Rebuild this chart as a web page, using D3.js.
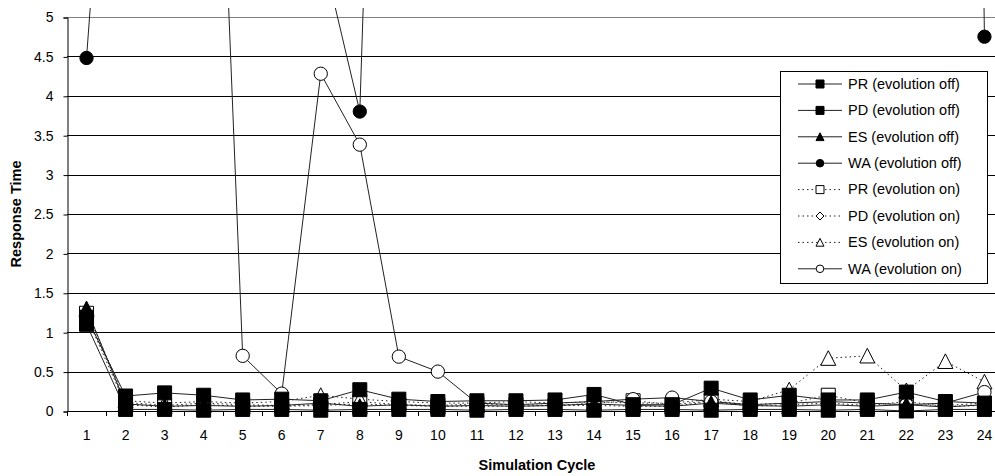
<!DOCTYPE html>
<html>
<head>
<meta charset="utf-8">
<script src="https://cdn.jsdelivr.net/npm/d3@7"></script>
<style>
  html, body { margin: 0; padding: 0; background: #fff; }
  svg { display: block; }
  text { font-family: "Liberation Sans", Arial, sans-serif; fill: #000; }
</style>
</head>
<body>
<svg id="chart" width="995" height="476"></svg>
<script>
// ---- data ----
const categories = ["1","2","3","4","5","6","7","8","9","10","11","12","13","14","15","16","17","18","19","20","21","22","23","24"];
const yTickValues = [0, 0.5, 1, 1.5, 2, 2.5, 3, 3.5, 4, 4.5, 5];

const prOff = [1.19, 0.19, 0.23, 0.2, 0.14, 0.15, 0.13, 0.27, 0.15, 0.12, 0.13, 0.13, 0.14, 0.21, 0.08, 0.08, 0.29, 0.14, 0.2, 0.14, 0.14, 0.24, 0.12, 0.1];
const pdOff = [1.1, 0.02, 0.02, 0.01, 0.02, 0.02, 0.01, 0.02, 0.02, 0.02, 0.01, 0.02, 0.02, 0.01, 0.02, 0.02, 0.01, 0.02, 0.02, 0.01, 0.02, 0.0, 0.02, 0.02];
const esOff = [1.3, 0.09, 0.06, 0.07, 0.06, 0.07, 0.1, 0.06, 0.08, 0.06, 0.07, 0.06, 0.07, 0.09, 0.07, 0.06, 0.1, 0.07, 0.06, 0.08, 0.06, 0.08, 0.05, 0.08];
const waOff = [4.48, 11.2, 12, 13, 12, 10, 5.9, 3.8, 19, 20, 20, 20, 20, 20, 20, 20, 20, 20, 20, 20, 20, 20, 40, 4.75];
const prOn  = [1.24, 0.11, 0.07, 0.1, 0.08, 0.07, 0.08, 0.12, 0.08, 0.07, 0.09, 0.08, 0.07, 0.1, 0.13, 0.08, 0.13, 0.08, 0.1, 0.2, 0.1, 0.08, 0.07, 0.1];
const pdOn  = [1.2, 0.08, 0.05, 0.08, 0.06, 0.06, 0.07, 0.09, 0.07, 0.06, 0.06, 0.06, 0.07, 0.07, 0.06, 0.06, 0.12, 0.06, 0.08, 0.1, 0.07, 0.12, 0.06, 0.07];
const esOn  = [1.28, 0.13, 0.1, 0.12, 0.1, 0.12, 0.2, 0.15, 0.12, 0.1, 0.1, 0.12, 0.1, 0.12, 0.1, 0.1, 0.15, 0.12, 0.27, 0.67, 0.7, 0.26, 0.63, 0.37];
const waOn  = [16, 18, 17, 13, 0.7, 0.22, 4.28, 3.38, 0.69, 0.5, 0.1, 0.08, 0.1, 0.12, 0.15, 0.17, 0.12, 0.08, 0.1, 0.12, 0.1, 0.08, 0.1, 0.24];

const seriesNames = ["PR (evolution off)", "PD (evolution off)", "ES (evolution off)", "WA (evolution off)",
                     "PR (evolution on)", "PD (evolution on)", "ES (evolution on)", "WA (evolution on)"];
const seriesValues = [prOff, pdOff, esOff, waOff, prOn, pdOn, esOn, waOn];

// ---- styles (separate from data) ----
const styles = [
  {marker: "square",   fill: "#000", dash: null},
  {marker: "square",   fill: "#000", dash: null},
  {marker: "triangle", fill: "#000", dash: null},
  {marker: "circle",   fill: "#000", dash: null},
  {marker: "square",   fill: "#fff", dash: "1.5,3"},
  {marker: "diamond",  fill: "#fff", dash: "1.5,3"},
  {marker: "triangle", fill: "#fff", dash: "1.5,3"},
  {marker: "circle",   fill: "#fff", dash: null}
];

const series = seriesNames.map((n, i) => ({name: n, values: seriesValues[i], style: styles[i]}));

// ---- layout ----
const svg = d3.select("#chart");
const plotLeft = 67, bandW = 39.04;
const x = d3.scaleBand().domain(categories).range([plotLeft, plotLeft + bandW * categories.length]).paddingInner(0).paddingOuter(0);
const y = d3.scaleLinear().domain([0, 5]).range([411, 17]);
const cx = c => x(c) + x.bandwidth() / 2;

svg.append("defs").append("clipPath").attr("id", "plotclip")
  .append("rect").attr("x", plotLeft).attr("y", 8).attr("width", 1000).attr("height", 470);

// gridlines
svg.append("g").selectAll("line").data(yTickValues.filter(v => v > 0)).join("line")
  .attr("x1", plotLeft).attr("x2", 995)
  .attr("y1", d => Math.round(y(d)) + 0.5).attr("y2", d => Math.round(y(d)) + 0.5)
  .attr("stroke", d => d === 5 ? "#808080" : "#000").attr("stroke-width", 1);

// y axis
const yAxis = d3.axisLeft(y).tickValues(yTickValues).tickSize(4).tickPadding(10).tickFormat(d3.format("~g"));
const gy = svg.append("g").attr("transform", `translate(${plotLeft + 0.5},0.5)`).call(yAxis);
gy.select(".domain").attr("stroke", "#000");
gy.selectAll(".tick line").attr("stroke", "#000");
gy.selectAll("text").style("font-size", "14px").attr("fill", "#111");

// x axis (labels)
const xAxis = d3.axisBottom(x).tickSize(0).tickPadding(19);
const gx = svg.append("g").attr("transform", `translate(0,${Math.round(y(0)) + 0.5})`).call(xAxis);
gx.select(".domain").remove();
gx.selectAll("text").style("font-size", "14px").attr("fill", "#111");
// x axis line + boundary ticks
svg.append("line").attr("x1", plotLeft).attr("x2", 995)
  .attr("y1", Math.round(y(0)) + 0.5).attr("y2", Math.round(y(0)) + 0.5).attr("stroke", "#000");
svg.append("g").selectAll("line").data(categories).join("line")
  .attr("x1", d => Math.round(x(d)) + 0.5).attr("x2", d => Math.round(x(d)) + 0.5)
  .attr("y1", Math.round(y(0))).attr("y2", Math.round(y(0)) + 5)
  .attr("stroke", "#000");

// titles
svg.append("text").attr("x", 537).attr("y", 470).attr("text-anchor", "middle")
  .style("font-size", "14.5px").style("font-weight", "bold").text("Simulation Cycle");
svg.append("text").attr("transform", "translate(21,214) rotate(-90)").attr("text-anchor", "middle")
  .style("font-size", "14.5px").style("font-weight", "bold").text("Response Time");

// lines
const plot = svg.append("g").attr("clip-path", "url(#plotclip)");
const lineGen = d3.line().x((d, i) => cx(categories[i])).y(d => y(d));
series.forEach(s => {
  plot.append("path").datum(s.values)
    .attr("d", lineGen)
    .attr("fill", "none")
    .attr("stroke", "#222")
    .attr("stroke-width", 1)
    .attr("stroke-dasharray", s.style.dash);
});

// markers
function markerPath(type, size) {
  const h = size / 2;
  if (type === "square") return `M${-h},${-h}H${h}V${h}H${-h}Z`;
  if (type === "diamond") return `M0,${-h}L${h},0L0,${h}L${-h},0Z`;
  if (type === "triangle") return `M0,${-h}L${h},${h * 0.95}L${-h},${h * 0.95}Z`;
  if (type === "circle") return d3.arc()({innerRadius: 0, outerRadius: h * 0.95, startAngle: 0, endAngle: 2 * Math.PI});
  return "";
}
const drawOrder = [4, 5, 6, 7, 0, 1, 2, 3];
drawOrder.forEach(si => {
  const s = series[si];
  const pts = s.values.map((v, i) => ({v, c: categories[i]})).filter(p => p.v <= 5.05);
  plot.append("g").selectAll("path").data(pts).join("path")
    .attr("transform", p => `translate(${cx(p.c)},${y(p.v)})`)
    .attr("d", markerPath(s.style.marker, s.style.marker === "triangle" ? 15 : 14))
    .attr("fill", s.style.fill)
    .attr("stroke", "#000")
    .attr("stroke-width", 1);
});

// legend
const lg = svg.append("g");
lg.append("rect").attr("x", 780.5).attr("y", 71.5).attr("width", 207).attr("height", 212)
  .attr("fill", "#fff").attr("stroke", "#000").attr("stroke-width", 1);
series.forEach((s, i) => {
  const yy = 83.5 + i * 26.4;
  const g = lg.append("g").attr("transform", `translate(0,${yy})`);
  g.append("line").attr("x1", 798).attr("x2", 842).attr("y1", 0.5).attr("y2", 0.5)
    .attr("stroke", "#222").attr("stroke-dasharray", s.style.dash);
  g.append("path").attr("transform", "translate(820,0.5)")
    .attr("d", markerPath(s.style.marker, 8))
    .attr("fill", s.style.fill).attr("stroke", "#000");
  g.append("text").attr("x", 848).attr("y", 0).attr("dy", "0.36em")
    .style("font-size", "14.5px").attr("fill", "#111").text(s.name);
});
</script>
</body>
</html>
